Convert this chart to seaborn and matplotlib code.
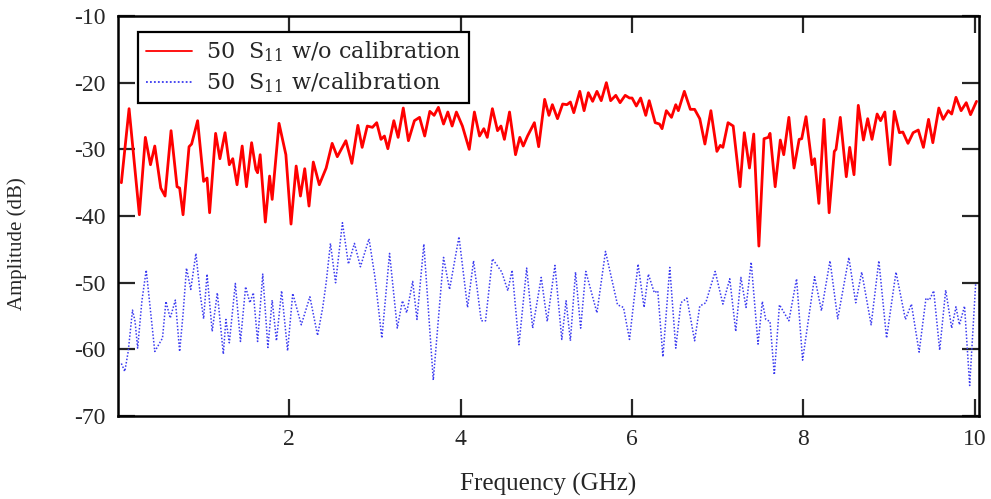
import matplotlib
matplotlib.use("Agg")
import matplotlib.pyplot as plt
import seaborn as sns
import pandas as pd

# S11 without calibration (red, solid)
red_freq = [0.04, 0.13, 0.25, 0.32, 0.38, 0.43, 0.50, 0.55, 0.62, 0.69, 0.72, 0.76, 0.83, 0.86, 0.93,
            1.00, 1.04, 1.07, 1.14, 1.19, 1.25, 1.30, 1.34, 1.39, 1.45, 1.50, 1.56, 1.61, 1.63, 1.66,
            1.72, 1.77, 1.80, 1.88, 1.96, 2.02, 2.08, 2.13, 2.18, 2.23, 2.28, 2.35, 2.43, 2.50, 2.56,
            2.66, 2.73, 2.80, 2.85, 2.91, 2.97, 3.02, 3.07, 3.11, 3.15, 3.22, 3.27, 3.33, 3.39, 3.46,
            3.52, 3.58, 3.64, 3.69, 3.74, 3.80, 3.85, 3.90, 3.95, 4.02, 4.10, 4.16, 4.22, 4.27, 4.31,
            4.37, 4.43, 4.47, 4.51, 4.57, 4.64, 4.69, 4.73, 4.78, 4.86, 4.91, 4.98, 5.03, 5.07, 5.13,
            5.19, 5.24, 5.28, 5.32, 5.39, 5.44, 5.49, 5.54, 5.59, 5.64, 5.70, 5.75, 5.81, 5.86, 5.92,
            5.97, 6.00, 6.05, 6.10, 6.16, 6.20, 6.27, 6.32, 6.35, 6.40, 6.46, 6.51, 6.54, 6.61, 6.68,
            6.73, 6.79, 6.85, 6.92, 6.99, 7.03, 7.06, 7.12, 7.18, 7.26, 7.31, 7.37, 7.42, 7.48, 7.54,
            7.59, 7.61, 7.67, 7.73, 7.77, 7.83, 7.89, 7.95, 7.98, 8.03, 8.10, 8.13, 8.18, 8.24, 8.30,
            8.36, 8.38, 8.43, 8.50, 8.54, 8.59, 8.64, 8.70, 8.75, 8.80, 8.86, 8.90, 8.95, 9.01, 9.06,
            9.12, 9.16, 9.22, 9.28, 9.34, 9.40, 9.46, 9.51, 9.58, 9.63, 9.69, 9.73, 9.78, 9.84, 9.90,
            9.95, 10.02]
red_db = [-35.0, -23.9, -39.8, -28.2, -32.3, -29.5, -35.8, -37.0, -27.2, -35.6, -35.8, -39.8, -29.6, -29.2, -25.7,
          -34.8, -34.3, -39.5, -27.6, -31.4, -27.5, -32.3, -31.4, -35.3, -29.5, -35.6, -29.0, -33.0, -33.5, -30.8,
          -40.9, -34.0, -37.5, -26.1, -30.8, -41.2, -32.5, -37.0, -32.9, -38.5, -31.9, -35.3, -32.8, -29.1, -31.1,
          -28.7, -32.1, -26.4, -29.7, -26.5, -26.7, -26.0, -28.5, -28.0, -29.9, -25.7, -28.2, -23.8, -28.7, -25.7,
          -25.2, -28.0, -24.3, -24.9, -23.7, -26.2, -24.4, -26.5, -24.4, -26.5, -30.0, -24.4, -28.0, -26.9, -28.2,
          -23.9, -27.2, -26.5, -28.5, -24.4, -30.8, -28.2, -29.5, -28.0, -26.0, -29.6, -22.5, -24.9, -23.3, -25.4,
          -23.2, -23.3, -22.9, -24.5, -21.3, -24.2, -21.5, -22.8, -21.3, -22.7, -20.0, -22.7, -21.9, -23.0, -21.9,
          -22.3, -22.3, -23.5, -22.3, -24.9, -22.7, -26.0, -26.2, -26.9, -24.2, -25.2, -23.3, -24.2, -21.3, -24.0,
          -24.0, -25.4, -29.2, -24.2, -30.3, -29.4, -29.7, -26.0, -26.5, -35.6, -27.5, -32.8, -27.7, -44.5, -28.4,
          -28.2, -27.6, -35.6, -28.6, -30.8, -25.2, -32.8, -28.5, -28.4, -25.1, -32.3, -31.4, -38.1, -25.5, -39.5,
          -30.3, -30.0, -25.2, -34.1, -29.7, -33.8, -23.4, -28.6, -25.4, -28.5, -24.7, -25.7, -24.4, -32.3, -24.3,
          -27.5, -27.4, -29.1, -27.5, -27.1, -29.7, -25.5, -29.0, -23.8, -25.5, -24.2, -24.7, -22.2, -24.2, -23.0,
          -24.8, -22.8]

# S11 with calibration (blue, dotted)
blue_freq = [0.04, 0.08, 0.12, 0.17, 0.20, 0.23, 0.28, 0.33, 0.38, 0.43, 0.48, 0.52, 0.56, 0.61, 0.67,
             0.72, 0.76, 0.80, 0.85, 0.91, 0.96, 1.00, 1.04, 1.10, 1.16, 1.23, 1.26, 1.30, 1.37, 1.43,
             1.49, 1.54, 1.58, 1.63, 1.69, 1.75, 1.80, 1.85, 1.91, 1.98, 2.04, 2.14, 2.24, 2.33, 2.39,
             2.43, 2.48, 2.54, 2.62, 2.69, 2.76, 2.83, 2.93, 3.00, 3.08, 3.17, 3.26, 3.32, 3.37, 3.44,
             3.49, 3.57, 3.68, 3.80, 3.87, 3.98, 4.08, 4.15, 4.24, 4.29, 4.37, 4.48, 4.55, 4.60, 4.68,
             4.77, 4.84, 4.94, 5.01, 5.10, 5.18, 5.23, 5.28, 5.34, 5.40, 5.46, 5.59, 5.69, 5.83, 5.90,
             5.97, 6.07, 6.14, 6.19, 6.26, 6.30, 6.36, 6.44, 6.51, 6.57, 6.64, 6.73, 6.79, 6.86, 6.97,
             7.06, 7.14, 7.21, 7.27, 7.33, 7.39, 7.47, 7.52, 7.56, 7.61, 7.66, 7.72, 7.83, 7.92, 7.99,
             8.13, 8.21, 8.31, 8.40, 8.53, 8.61, 8.68, 8.79, 8.88, 8.97, 9.08, 9.19, 9.26, 9.35, 9.43,
             9.47, 9.52, 9.59, 9.66, 9.73, 9.78, 9.82, 9.88, 9.94, 10.01]
blue_db = [-62.1, -63.3, -60.3, -54.1, -55.8, -59.8, -52.7, -48.1, -54.2, -60.3, -59.2, -58.3, -52.8, -55.3, -52.6,
           -60.3, -54.7, -47.8, -51.0, -45.6, -51.7, -55.4, -48.7, -57.3, -51.5, -60.7, -55.5, -59.0, -50.1, -58.8,
           -50.6, -53.0, -51.5, -58.8, -48.7, -59.7, -52.6, -58.7, -51.2, -60.2, -51.6, -56.3, -52.1, -57.9, -53.7,
           -50.0, -44.1, -50.0, -41.0, -47.2, -44.1, -47.6, -43.4, -49.2, -58.3, -45.6, -56.8, -52.7, -54.5, -49.8,
           -55.5, -44.2, -64.6, -46.2, -51.0, -43.1, -53.7, -46.7, -55.7, -55.7, -46.4, -48.4, -51.2, -48.1, -59.3,
           -47.8, -56.8, -49.2, -55.8, -47.4, -58.5, -52.7, -58.7, -48.4, -56.8, -48.3, -54.5, -45.3, -53.3, -53.7,
           -58.5, -47.2, -53.7, -48.7, -51.5, -51.2, -61.1, -47.7, -59.8, -53.0, -52.3, -58.7, -53.5, -53.0, -48.3,
           -53.2, -49.4, -57.3, -49.2, -53.7, -46.9, -59.2, -52.8, -55.5, -55.8, -63.8, -53.3, -55.7, -49.4, -61.6,
           -49.1, -54.2, -46.7, -55.4, -46.2, -53.0, -48.4, -56.3, -46.7, -58.3, -48.4, -55.5, -53.2, -60.4, -52.3,
           -52.6, -51.2, -60.1, -51.1, -56.8, -53.6, -56.3, -53.5, -65.4, -50.1]

x_ticks = [2, 4, 6, 8, 10]
y_ticks = [-70, -60, -50, -40, -30, -20, -10]

red_df = pd.DataFrame({"freq": red_freq, "db": red_db})
blue_df = pd.DataFrame({"freq": blue_freq, "db": blue_db})

sns.set_style("white")
plt.rcParams['font.family'] = ['Liberation Serif', 'DejaVu Serif']
plt.rcParams['axes.unicode_minus'] = False
plt.rcParams['mathtext.fontset'] = 'dejavuserif'

fig = plt.figure(figsize=(9.91, 4.99), dpi=100)
ax = fig.add_axes([0.119, 0.166, 0.869, 0.802])

sns.lineplot(data=red_df, x="freq", y="db", ax=ax, color="#ff0000", lw=2.0,
             label="50  S$_{11}$ w/o calibration", sort=False)
sns.lineplot(data=blue_df, x="freq", y="db", ax=ax, color="#3b3bf0", lw=1.1,
             linestyle=(0, (1, 1.2)), label="50  S$_{11}$ w/calibration", sort=False)

ax.set_xlim(0, 10.05)
ax.set_ylim(-70, -10)
ax.set_xticks(x_ticks)
ax.set_yticks(y_ticks)
ax.tick_params(direction="in", length=12, width=1.6, labelsize=17, pad=9,
               top=True, right=True, bottom=True, left=True)
for sp in ax.spines.values():
    sp.set_linewidth(1.8)
    sp.set_color("black")

ax.set_xlabel("Frequency (GHz)", fontsize=18, labelpad=17)
ax.set_ylabel("Amplitude (dB)", fontsize=15)
# label sits a bit low in the original
ax.yaxis.set_label_coords(-0.106, 0.43)

leg = ax.legend(loc="upper left", bbox_to_anchor=(0.023, 0.96), frameon=True, fancybox=False,
                prop={"family": "DejaVu Serif", "size": 16},
                handlelength=2.1, borderpad=0.35, labelspacing=0.28, handletextpad=0.6,
                borderaxespad=0)
leg.get_frame().set_edgecolor("black")
leg.get_frame().set_linewidth(1.6)
leg.get_frame().set_alpha(1)
for h in leg.get_lines():
    h.set_linewidth(1.3)

fig.savefig("out.png", dpi=100)
